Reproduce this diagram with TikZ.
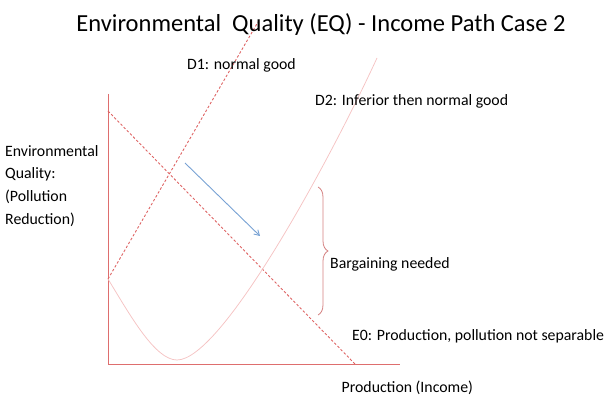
\documentclass[tikz,border=0pt]{standalone}
\usepackage{fontspec}
\setmainfont{Carlito}
\usepackage{xcolor}
\usepackage{tikz}
\usetikzlibrary{arrows.meta,positioning,calc,decorations.pathreplacing}

\definecolor{axisred}{RGB}{222,110,110}
\definecolor{dashred}{RGB}{222,100,100}
\definecolor{curvepink}{RGB}{245,195,195}
\definecolor{bracered}{RGB}{212,128,128}
\definecolor{pathblue}{RGB}{120,162,212}

\begin{document}
\begin{tikzpicture}[
  x=1pt, y=-1pt,
  every node/.style={inner sep=0pt, font=\fontsize{15.8}{22.7}\selectfont},
  axis/.style={draw=axisred, line width=1pt},
  demand/.style={draw=dashred, line width=0.9pt, dash pattern=on 2.5pt off 2pt},
  income/.style={draw=curvepink, line width=0.75pt},
  arrow/.style={-{Straight Barb[length=5pt,width=6pt]}, draw=pathblue, line width=0.9pt},
  label/.style={anchor=base west}
]
\useasboundingbox (0,0) rectangle (616,406);

% axes
\coordinate (top) at (108,94);
\coordinate (origin) at (108,364);
\coordinate (xend) at (400,364);
\draw[axis] (top) -- (origin) -- (xend);

% curves
\coordinate (d1start) at (108,279);
\coordinate (d1end) at (258,22);
\coordinate (e0start) at (108,111);
\coordinate (e0end) at (355,364);
\coordinate (d2low) at (177,360);
\coordinate (d2end) at (377,58);
\draw[demand] (d1start) -- (d1end);
\draw[demand] (e0start) -- (e0end);
\draw[income] (d1start) .. controls (130,315) and (155,360) .. (d2low)
  .. controls (222,360) and (330,160) .. (d2end);

% path of income
\coordinate (pathstart) at (185,163);
\coordinate (pathend) at (260,236);
\draw[arrow] (pathstart) -- (pathend);

% bargaining brace
\coordinate (bracetop) at (318,187);
\coordinate (bracebot) at (318,315);
\draw[bracered, line width=0.8pt, decorate,
  decoration={brace, amplitude=10pt, aspect=0.5}] (bracetop) -- (bracebot);

% labels
\node (title) [anchor=base, font=\fontsize{24.5}{28}\selectfont] at (321,31.5)
  {Environmental\ \ Quality (EQ) - Income Path Case 2};
\node (d1) [label] at (187,70) {D1: normal good};
\node (d2) [label] at (315,105.7) {D2: Inferior then normal good};
\node (bargain) [label] at (330,268.3) {Bargaining needed};
\node (e0) [label] at (352,340) {E0: Production, pollution not separable};
\node (xlabel) [label] at (341.5,392.3) {Production (Income)};
\node (ylabel) [anchor=north west, align=left, text depth=0pt] at (5,145)
  {Environmental\\Quality:\\(Pollution\\Reduction)};
\end{tikzpicture}
\end{document}
